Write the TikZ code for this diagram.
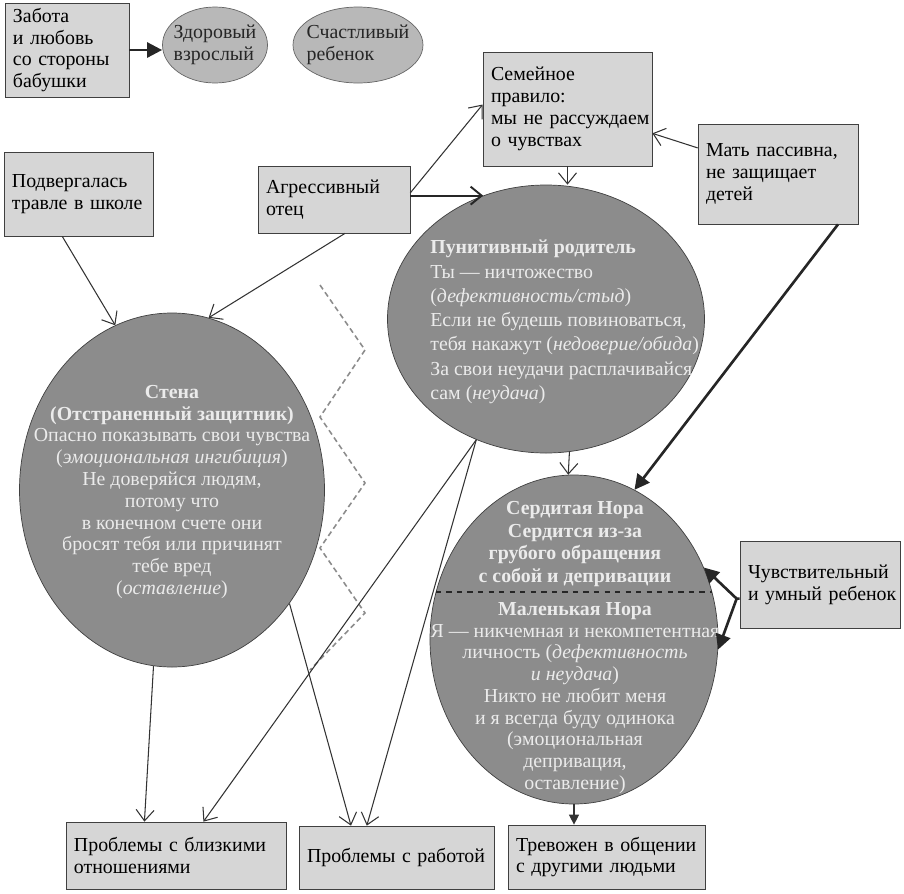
\documentclass[tikz,border=0pt]{standalone}
\usepackage{fontspec}
\setmainfont{Liberation Serif}
\usetikzlibrary{shapes.geometric, arrows.meta}
\newcommand{\diagfont}{\fontsize{11.3}{12.4}\selectfont}

\begin{document}
\begin{tikzpicture}[x=0.2mm, y=-0.2mm,
    box/.style={draw=black!75, fill=black!16, align=left, inner xsep=1.6mm, inner ysep=0.6mm, font=\diagfont},
    bigell/.style={ellipse, draw=black!75, fill=black!45, inner sep=0pt},
    smallell/.style={ellipse, draw=black!60, fill=black!28, inner sep=0pt},
    elltxt/.style={text=white!92!black, align=center, inner sep=0pt, font=\diagfont},
    smalltxt/.style={text=black!85, align=left, inner sep=0pt, font=\diagfont},
    thinarr/.style={draw=black!80, line width=0.6pt, -{Straight Barb[length=2.2mm,width=3.6mm]}},
    midarr/.style={draw=black!85, line width=1.1pt, -{Straight Barb[length=2.2mm,width=3.6mm]}},
    thickarr/.style={draw=black!85, line width=1.5pt, -{Triangle[length=3mm,width=3mm]}},
    fillarr/.style={draw=black!80, line width=0.6pt, -{Triangle[length=2mm,width=2mm]}}]
            \useasboundingbox (0,0) rectangle (904,894);
            \node[box, text width=21.6mm, minimum height=18.8mm] (zabota) at (67,50) {Забота\\и~любовь\\со~стороны\\бабушки};
            \node[smallell, minimum width=21mm, minimum height=15.2mm] (zdorov) at (215,45) {};
            \node[smalltxt] (zdorovtxt) at (zdorov.center) {Здоровый\\взрослый};
            \node[smallell, minimum width=26mm, minimum height=15.2mm] (schast) at (358,45) {};
            \node[smalltxt] (schasttxt) at (schast.center) {Счастливый\\ребенок};
            \node[box, text width=30.6mm, minimum height=22.8mm] (semya) at (567.5,109) {Семейное\\правило:\\мы~не~рассуждаем\\о~чувствах};
            \node[box, text width=28.8mm, minimum height=20mm] (mat) at (778,174) {Мать~пассивна,\\не~защищает\\детей};
            \node[box, text width=26.6mm, minimum height=16.8mm] (podv) at (78.5,194) {Подвергалась\\травле~в~школе};
            \node[box, text width=27.2mm, minimum height=13.4mm] (agr) at (334,199.5) {Агрессивный\\отец};
            \node[box, text width=28.8mm, minimum height=17.4mm] (chuv) at (820,584.5) {Чувствительный\\и~умный~ребенок};
            \node[box, text width=40.8mm, minimum height=13.4mm] (closeprob) at (176,855.5) {Проблемы~с~близкими\\отношениями};
            \node[box, text width=35.8mm, minimum height=12.6mm] (workprob) at (396.5,857.5) {Проблемы~с~работой};
            \node[box, text width=36.2mm, minimum height=12.8mm] (anxious) at (606.5,857) {Тревожен~в~общении\\с~другими~людьми};
            \node[bigell, minimum width=61mm, minimum height=70.8mm] (stena) at (172,490) {};
            \node[elltxt] (stenatxt) at (172,492) {\textbf{Стена}\\\textbf{(Отстраненный защитник)}\\Опасно показывать свои чувства\\(\textit{эмоциональная ингибиция})\\Не доверяйся людям,\\потому что\\в конечном счете они\\бросят тебя или причинят\\тебе вред\\(\textit{оставление})};
            \node[bigell, minimum width=63.4mm, minimum height=53.6mm] (punit) at (546,319) {};
            \node[elltxt, align=left, anchor=west, font=\fontsize{11.3}{13.8}\selectfont] (punittxt) at (430,322) {\textbf{Пунитивный родитель}\\Ты --- ничтожество\\(\textit{дефективность/стыд})\\Если не будешь повиноваться,\\тебя накажут (\textit{недоверие/обида})\\За свои неудачи расплачивайся\\сам (\textit{неудача})};
            \node[bigell, minimum width=57.6mm, minimum height=65.8mm] (nora) at (574,639.5) {};
            \node[elltxt, font=\fontsize{11.3}{12.9}\selectfont\bfseries] (noratop) at (575,544) {Сердитая Нора\\Сердится из-за\\грубого обращения\\с собой и депривации};
            \node[elltxt] (norabottom) at (575,698) {\textbf{Маленькая Нора}\\Я --- никчемная и некомпетентная\\личность (\textit{дефективность}\\\textit{и неудача})\\Никто не любит меня\\и я всегда буду одинока\\(эмоциональная\\депривация,\\оставление)};
            \draw[black!85, dashed, line width=0.8pt] (nora.161) -- (nora.19);
            \draw[black!45, line width=0.9pt, dash pattern=on 3pt off 2pt] (320,285) -- (365,350) -- (320,417) -- (365,483) -- (320,548) -- (365,613) -- (310,670);
            \draw[thickarr] (zabota.east) -- (zabota.east -| zdorov.west);
            \draw[thinarr] (mat.162) -- (semya.-16);
            \draw[thinarr] (semya.south) -- (punit.north -| semya.south);
            \draw[thinarr] (agr.5) -- (semya.177);
            \draw[midarr] (punit.117 -| agr.east) -- (punit.117);
            \draw[thinarr] (agr.-72) -- (stena.78);
            \draw[thinarr] (podv.-111) -- (stena.109);
            \draw[thinarr] (stena.-96) -- (closeprob.133);
            \draw[thinarr] (punit.240) -- (closeprob.51);
            \draw[thinarr] (punit.240) -- (workprob.133);
            \draw[thinarr] (stena.-44) -- (workprob.145);
            \draw[thinarr] (punit.-80) -- (nora.92);
            \draw[thickarr] (mat.-40) -- (nora.68);
            \coordinate (fork) at ([xshift=-0.6mm]chuv.190);
            \draw[thickarr] (chuv.190) -- (fork) -- (nora.29);
            \draw[thickarr] (fork) -- (nora.-4);
            \draw[fillarr] (nora.south) -- (nora.south |- anxious.north);
\end{tikzpicture}
\end{document}
